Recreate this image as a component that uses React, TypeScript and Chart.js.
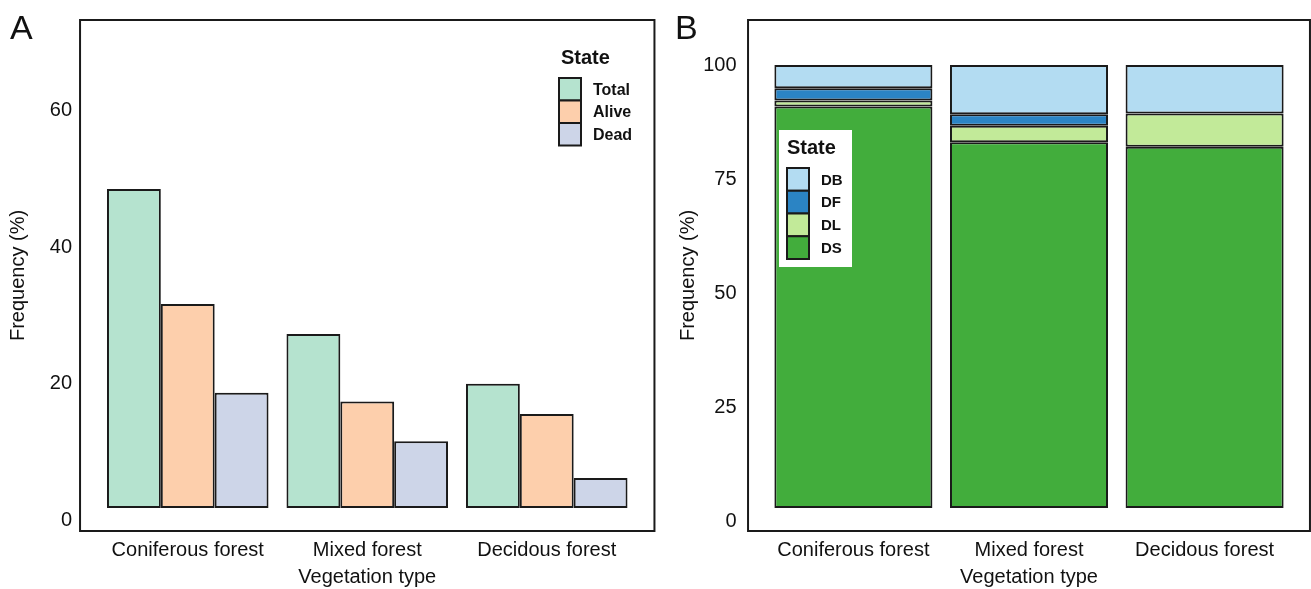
import React, { useEffect, useRef } from "react";
import { Chart, registerables } from "chart.js";

Chart.register(...registerables);

// ---------- data ----------
const categories = ["Coniferous forest", "Mixed forest", "Decidous forest"];

const statesA = ["Total", "Alive", "Dead"];
const totalValues = [48.5, 27.3, 20.0];
const aliveValues = [31.7, 17.4, 15.6];
const deadValues = [18.7, 11.6, 6.2];
const ticksA = [0, 20, 40, 60];

const statesB = ["DB", "DF", "DL", "DS"];
const dsValues = [90.9, 83.1, 82.1];
const dlValues = [1.3, 3.6, 7.3];
const dfValues = [2.7, 2.5, 0];
const dbValues = [5.1, 10.8, 10.6];
const ticksB = [0, 25, 50, 75, 100];

// ---------- styles ----------
const FONT = "'Liberation Sans', Arial, Helvetica, sans-serif";
const TEXT = "#111111";
const EDGE = "#1a1a1a";
const colorsA: Record<string, string> = { Total: "#b5e3cf", Alive: "#fdcfac", Dead: "#cdd5e8" };
const colorsB: Record<string, string> = { DB: "#b3dcf2", DF: "#2b84c4", DL: "#c2ea99", DS: "#42ad3c" };

type LegendSpec = {
  bg: null | { x: number; y: number; w: number; h: number };
  titleX: number;
  titleY: number;
  keyX: number;
  keyY: number;
  keyW: number;
  keyH: number;
  labelX: number;
  labelSize: number;
  items: string[];
  colors: Record<string, string>;
};

function decorPlugin(letter: string, letterX: number, yTitleX: number, legend: LegendSpec) {
  return {
    id: "decor" + letter,
    afterDatasetsDraw(chart: any) {
      const ctx = chart.ctx as CanvasRenderingContext2D;
      const a = chart.chartArea;
      const xs = chart.scales.x;
      const fl = xs.getPixelForValue(-0.6);
      const fr = xs.getPixelForValue(2.6);
      ctx.save();
      // frame
      ctx.strokeStyle = EDGE;
      ctx.lineWidth = 2;
      ctx.strokeRect(fl, a.top, fr - fl, a.bottom - a.top);

      // panel letter
      ctx.fillStyle = TEXT;
      ctx.font = `34px ${FONT}`;
      ctx.textAlign = "left";
      ctx.textBaseline = "alphabetic";
      ctx.fillText(letter, letterX, 39);

      // x title
      ctx.font = `20px ${FONT}`;
      ctx.textAlign = "center";
      ctx.textBaseline = "middle";
      ctx.fillText("Vegetation type", (fl + fr) / 2, 577);

      // y title
      ctx.save();
      ctx.translate(yTitleX, (a.top + a.bottom) / 2);
      ctx.rotate(-Math.PI / 2);
      ctx.fillText("Frequency (%)", 0, 0);
      ctx.restore();

      // legend
      if (legend.bg) {
        ctx.fillStyle = "#ffffff";
        ctx.fillRect(legend.bg.x, legend.bg.y, legend.bg.w, legend.bg.h);
      }
      ctx.fillStyle = TEXT;
      ctx.textAlign = "left";
      ctx.textBaseline = "middle";
      ctx.font = `bold 20px ${FONT}`;
      ctx.fillText("State", legend.titleX, legend.titleY);
      ctx.font = `bold ${legend.labelSize}px ${FONT}`;
      legend.items.forEach((name, i) => {
        const y = legend.keyY + i * legend.keyH;
        ctx.fillStyle = legend.colors[name];
        ctx.fillRect(legend.keyX, y, legend.keyW, legend.keyH);
        ctx.strokeStyle = EDGE;
        ctx.lineWidth = 2;
        ctx.strokeRect(legend.keyX, y, legend.keyW, legend.keyH);
        ctx.fillStyle = TEXT;
        ctx.fillText(name, legend.labelX, y + legend.keyH / 2 + 1);
      });
      ctx.restore();
    },
  };
}

function zeroPad(s: any) {
  s.paddingTop = 0;
  s.paddingBottom = 0;
  s.paddingLeft = 0;
  s.paddingRight = 0;
}

function baseScales(min: number, max: number, ticks: number[], yWidth: number, yPad: number, stacked: boolean) {
  return {
    x: {
      stacked,
      grid: { display: false, drawTicks: false },
      border: { display: false },
      ticks: { color: TEXT, font: { family: FONT, size: 20 }, padding: 7, maxRotation: 0, autoSkip: false },
      afterFit: (s: any) => {
        s.height = 58;
        zeroPad(s);
      },
    },
    y: {
      stacked,
      min,
      max,
      grid: { display: false, drawTicks: false },
      border: { display: false },
      ticks: { color: TEXT, font: { family: FONT, size: 20 }, padding: yPad },
      afterFit: (s: any) => {
        s.width = yWidth;
        zeroPad(s);
      },
      afterBuildTicks: (s: any) => {
        s.ticks = ticks.map((v) => ({ value: v }));
      },
    },
  };
}

function makeConfigA(): any {
  const baseA = 1.83;
  const series = [totalValues, aliveValues, deadValues];
  return {
    type: "bar",
    data: {
      labels: categories,
      datasets: statesA.map((name, i) => ({
        label: name,
        data: series[i],
        backgroundColor: colorsA[name],
        borderColor: EDGE,
        borderWidth: 2,
        borderSkipped: false,
        base: baseA,
        categoryPercentage: 0.9,
        barPercentage: 1.0,
      })),
    },
    options: {
      animation: false,
      responsive: false,
      maintainAspectRatio: false,
      layout: { autoPadding: false, padding: { top: 20, right: 660 - 636.5, left: 0, bottom: 0 } },
      plugins: { legend: { display: false }, tooltip: { enabled: false }, title: { display: false } },
      scales: baseScales(-1.54, 73.25, ticksA, 98, 26, false),
    },
    plugins: [
      decorPlugin("A", 10, 18, {
        bg: null,
        titleX: 561,
        titleY: 58,
        keyX: 559,
        keyY: 78,
        keyW: 22,
        keyH: 22.5,
        labelX: 593,
        labelSize: 16,
        items: statesA,
        colors: colorsA,
      }),
    ],
  };
}

function makeConfigB(): any {
  const baseB = 3.0;
  const order = ["DS", "DL", "DF", "DB"];
  const seriesMap: Record<string, number[]> = { DS: dsValues, DL: dlValues, DF: dfValues, DB: dbValues };
  return {
    type: "bar",
    data: {
      labels: categories,
      datasets: order.map((name) => ({
        label: name,
        data: seriesMap[name],
        backgroundColor: colorsB[name],
        borderColor: EDGE,
        borderWidth: 2,
        borderSkipped: false,
        ...(name === "DS" ? { base: baseB } : {}),
        categoryPercentage: 0.9,
        barPercentage: 1.0,
      })),
    },
    options: {
      animation: false,
      responsive: false,
      maintainAspectRatio: false,
      layout: { autoPadding: false, padding: { top: 20, right: 651 - 632.4, left: 0, bottom: 0 } },
      plugins: { legend: { display: false }, tooltip: { enabled: false }, title: { display: false } },
      scales: baseScales(-2.04, 109.85, ticksB, 105.6, 29, true),
    },
    plugins: [
      decorPlugin("B", 15, 28, {
        bg: { x: 119, y: 130, w: 73, h: 137 },
        titleX: 127,
        titleY: 148,
        keyX: 127,
        keyY: 168,
        keyW: 22,
        keyH: 22.75,
        labelX: 161,
        labelSize: 15,
        items: statesB,
        colors: colorsB,
      }),
    ],
  };
}

function Panel({ make, left, width, height }: { make: () => any; left: number; width: number; height: number }) {
  const ref = useRef<HTMLCanvasElement>(null);
  useEffect(() => {
    const chart = new Chart(ref.current as HTMLCanvasElement, make());
    return () => chart.destroy();
  }, []);
  return (
    <canvas
      ref={ref}
      width={width}
      height={height}
      style={{ position: "absolute", left, top: 0, width, height }}
    />
  );
}

export default function App() {
  return (
    <div style={{ position: "absolute", left: 0, top: 0, width: 1311, height: 589, background: "#ffffff", overflow: "hidden" }}>
      <Panel make={makeConfigA} left={0} width={660} height={589} />
      <Panel make={makeConfigB} left={660} width={651} height={589} />
    </div>
  );
}
